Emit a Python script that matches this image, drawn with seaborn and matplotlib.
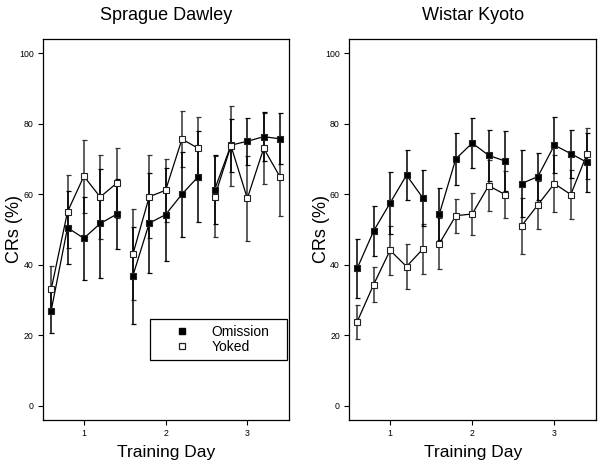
import pandas as pd
import matplotlib
matplotlib.use('Agg')
import matplotlib.pyplot as plt
import seaborn as sns
from matplotlib.lines import Line2D

# sessões (5 por dia de treino)
session_x = [0.6, 0.8, 1.0, 1.2, 1.4, 1.6, 1.8, 2.0, 2.2, 2.4, 2.6, 2.8, 3.0, 3.2, 3.4]
day = [1] * 5 + [2] * 5 + [3] * 5
day_ticks = [1, 2, 3]
y_ticks = [0, 20, 40, 60, 80, 100]

# Sprague Dawley
sd_omission = [27.0, 50.5, 47.5, 51.7, 54.3, 36.9, 51.8, 54.2, 60.0, 65.0, 61.3, 73.9, 75.0, 76.3, 75.7]
sd_omission_err = [6.4, 10.4, 11.8, 15.5, 9.9, 13.7, 14.2, 13.2, 12.1, 12.9, 9.7, 7.5, 6.7, 7.0, 7.2]
sd_yoked = [33.0, 55.0, 65.1, 59.2, 63.1, 43.0, 59.3, 61.1, 75.6, 73.0, 59.3, 73.7, 58.8, 73.0, 64.9]
sd_yoked_err = [6.7, 10.3, 10.4, 11.8, 9.9, 12.9, 11.8, 9.0, 8.0, 9.0, 11.5, 11.3, 12.1, 10.1, 11.2]

# Wistar Kyoto
wk_omission = [39.0, 49.6, 57.5, 65.4, 58.9, 54.4, 70.0, 74.5, 71.0, 69.4, 63.0, 65.0, 73.9, 71.5, 69.0]
wk_omission_err = [8.3, 7.1, 8.7, 7.0, 7.9, 7.4, 7.4, 7.2, 7.3, 8.5, 9.6, 6.7, 8.0, 6.8, 8.3]
wk_yoked = [23.9, 34.4, 44.1, 39.5, 44.5, 46.0, 53.9, 54.4, 62.4, 59.9, 51.0, 57.0, 63.0, 59.9, 71.5]
wk_yoked_err = [4.8, 4.9, 7.0, 6.3, 7.0, 7.3, 4.8, 5.9, 7.2, 6.6, 7.9, 6.8, 8.1, 7.0, 7.2]

sns.set_style('ticks')
plt.rcParams['font.family'] = ['Liberation Sans', 'DejaVu Sans']
plt.rcParams['text.color'] = 'black'
plt.rcParams['axes.labelcolor'] = 'black'
plt.rcParams['xtick.color'] = 'black'
plt.rcParams['ytick.color'] = 'black'


def montar_df(omission, omission_err, yoked, yoked_err):
    linhas = []
    for i in range(len(session_x)):
        linhas.append({'x': session_x[i], 'day': day[i], 'group': 'Omission',
                       'crs': omission[i], 'err': omission_err[i]})
        linhas.append({'x': session_x[i], 'day': day[i], 'group': 'Yoked',
                       'crs': yoked[i], 'err': yoked_err[i]})
    return pd.DataFrame(linhas)


paineis = [
    ('Sprague Dawley', montar_df(sd_omission, sd_omission_err, sd_yoked, sd_yoked_err)),
    ('Wistar Kyoto', montar_df(wk_omission, wk_omission_err, wk_yoked, wk_yoked_err)),
]

fig = plt.figure(figsize=(6.03, 4.67), dpi=100)
posicoes = [[0.0713, 0.1006, 0.408, 0.816], [0.5788, 0.1006, 0.41, 0.816]]
ylabel_x = [-0.081, -0.077]

estilo = {'Omission': {'mfc': 'black', 'ecolor': 'black'},
          'Yoked': {'mfc': 'white', 'ecolor': '#333333'}}

for (titulo, df), pos, lx in zip(paineis, posicoes, ylabel_x):
    ax = fig.add_axes(pos)

    # barras de erro
    for grupo in ['Yoked', 'Omission']:
        d = df[df['group'] == grupo]
        ax.errorbar(d['x'], d['crs'], yerr=d['err'], fmt='none',
                    ecolor=estilo[grupo]['ecolor'], elinewidth=1.1, capsize=1.8,
                    capthick=0.9, zorder=2)

    # linhas separadas por dia
    sns.lineplot(data=df, x='x', y='crs', hue='group', units='day', estimator=None,
                 palette={'Omission': 'black', 'Yoked': 'black'}, linewidth=0.9,
                 legend=False, ax=ax, zorder=3)

    # marcadores
    for grupo in ['Omission', 'Yoked']:
        d = df[df['group'] == grupo]
        ax.plot(d['x'], d['crs'], linestyle='none', marker='s', markersize=3.8,
                mfc=estilo[grupo]['mfc'], mec='#222222', mew=0.8, zorder=4)

    ax.set_xlim(0.5, 3.51)
    ax.set_ylim(-4, 104)
    ax.set_xticks(day_ticks)
    ax.set_yticks(y_ticks)
    ax.tick_params(axis='both', labelsize=6.3, length=3.6, width=0.8, pad=3)
    for sp in ax.spines.values():
        sp.set_visible(True)
        sp.set_color('black')
        sp.set_linewidth(0.9)
    ax.set_title(titulo, fontsize=13, pad=14)
    ax.set_xlabel('Training Day', fontsize=12.5, labelpad=5)
    ax.set_ylabel('CRs (%)', fontsize=13)
    ax.yaxis.set_label_coords(lx, 0.5)

    if titulo == 'Sprague Dawley':
        handles = [
            Line2D([], [], linestyle='none', marker='s', markersize=4, mfc='black', mec='black'),
            Line2D([], [], linestyle='none', marker='s', markersize=4.5, mfc='white', mec='#222222', mew=0.9),
        ]
        leg = ax.legend(handles, ['Omission', 'Yoked'], loc='lower left',
                        bbox_to_anchor=(0.435, 0.157, 0.557, 0.111), mode='expand',
                        borderaxespad=0, fontsize=10, handlelength=3.66, handletextpad=0.3,
                        borderpad=0.45, labelspacing=0.05, fancybox=False, framealpha=1)
        leg.get_frame().set_edgecolor('black')
        leg.get_frame().set_linewidth(0.9)

fig.savefig('out.png', dpi=100)
